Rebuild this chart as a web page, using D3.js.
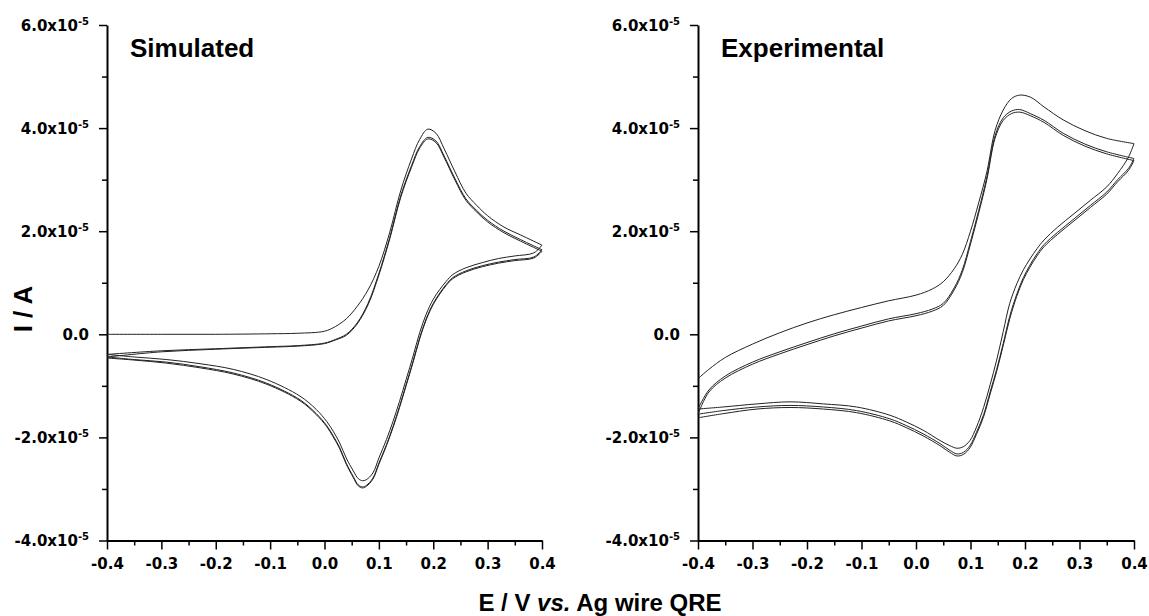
<!DOCTYPE html>
<html>
<head>
<meta charset="UTF-8" />
<script src="https://d3js.org/d3.v7.min.js"></script>
<style>
  body { margin: 0; background: #fff; }
  svg { display: block; }
</style>
</head>
<body>
<div id="chart"></div>
<script>
// currents are in units of 1e-5 A, potentials in V vs. Ag wire QRE

// Simulated: forward (anodic) sweeps
const simFwdE = [-0.4, -0.3, -0.2, -0.1, -0.05, 0, 0.02, 0.04, 0.06, 0.08, 0.1, 0.12, 0.14, 0.16, 0.175, 0.19, 0.205, 0.22, 0.24, 0.26, 0.28, 0.3, 0.33, 0.36, 0.4]
const simFwd1 = [0, 0, 0, 0.01, 0.02, 0.06, 0.15, 0.3, 0.54, 0.86, 1.32, 1.98, 2.78, 3.4, 3.78, 3.98, 3.9, 3.6, 3.15, 2.74, 2.5, 2.3, 2.08, 1.93, 1.73]
const simFwd2 = [-0.39, -0.32, -0.28, -0.24, -0.22, -0.17, -0.1, 0.0, 0.22, 0.6, 1.18, 1.88, 2.68, 3.27, 3.64, 3.82, 3.75, 3.46, 3.02, 2.63, 2.4, 2.21, 2.0, 1.84, 1.64]
const simFwd3 = [-0.44, -0.34, -0.29, -0.25, -0.23, -0.18, -0.11, -0.02, 0.2, 0.57, 1.15, 1.85, 2.65, 3.24, 3.61, 3.79, 3.72, 3.43, 2.99, 2.6, 2.37, 2.18, 1.97, 1.81, 1.61]

// Simulated: reverse (cathodic) sweeps
const simRevE = [0.4, 0.385, 0.35, 0.32, 0.29, 0.26, 0.236, 0.224, 0.212, 0.2, 0.187, 0.175, 0.163, 0.15, 0.138, 0.126, 0.114, 0.1, 0.089, 0.077, 0.07, 0.062, 0.053, 0.04, 0.028, 0.016, 0.004, -0.015, -0.045, -0.106, -0.168, -0.229, -0.29, -0.35, -0.4]
const simRev1 = [1.73, 1.58, 1.52, 1.47, 1.39, 1.29, 1.16, 1.03, 0.87, 0.68, 0.39, 0.03, -0.42, -0.88, -1.3, -1.69, -2.04, -2.4, -2.69, -2.82, -2.84, -2.8, -2.65, -2.4, -2.11, -1.88, -1.69, -1.46, -1.2, -0.88, -0.68, -0.57, -0.49, -0.44, -0.39]
const simRev2 = [1.64, 1.5, 1.45, 1.4, 1.33, 1.23, 1.1, 0.97, 0.8, 0.6, 0.3, -0.07, -0.52, -0.98, -1.4, -1.79, -2.14, -2.5, -2.79, -2.93, -2.96, -2.92, -2.76, -2.5, -2.2, -1.97, -1.77, -1.54, -1.27, -0.95, -0.75, -0.63, -0.54, -0.49, -0.44]
const simRev3 = [1.61, 1.48, 1.43, 1.38, 1.31, 1.21, 1.08, 0.95, 0.78, 0.58, 0.28, -0.09, -0.54, -1.0, -1.42, -1.81, -2.16, -2.52, -2.81, -2.95, -2.98, -2.94, -2.78, -2.52, -2.22, -1.99, -1.79, -1.56, -1.29, -0.97, -0.77, -0.65, -0.56, -0.5, -0.46]

// Experimental: forward sweeps
const expFwdE = [-0.4, -0.38, -0.35, -0.3, -0.25, -0.2, -0.15, -0.1, -0.05, 0, 0.03, 0.05, 0.07, 0.085, 0.1, 0.115, 0.13, 0.145, 0.16, 0.175, 0.19, 0.21, 0.235, 0.27, 0.31, 0.35, 0.4]
const expFwd1 = [-0.86, -0.68, -0.45, -0.19, 0.03, 0.22, 0.38, 0.52, 0.65, 0.76, 0.88, 1.02, 1.27, 1.55, 2.0, 2.55, 3.15, 3.95, 4.35, 4.57, 4.64, 4.6, 4.41, 4.16, 3.95, 3.8, 3.7]
const expFwd2 = [-1.45, -1.08, -0.81, -0.54, -0.34, -0.16, 0.01, 0.16, 0.3, 0.4, 0.49, 0.6, 0.9, 1.25, 1.8, 2.4, 3.05, 3.85, 4.2, 4.33, 4.36, 4.28, 4.15, 3.9, 3.69, 3.54, 3.41]
const expFwd3 = [-1.55, -1.12, -0.85, -0.58, -0.38, -0.2, -0.03, 0.12, 0.26, 0.36, 0.45, 0.56, 0.86, 1.2, 1.75, 2.35, 3.0, 3.8, 4.15, 4.28, 4.31, 4.24, 4.11, 3.86, 3.65, 3.5, 3.37]

// Experimental: reverse sweeps
const expRevE = [0.4, 0.39, 0.37, 0.35, 0.32, 0.29, 0.26, 0.235, 0.222, 0.209, 0.197, 0.185, 0.172, 0.16, 0.148, 0.136, 0.124, 0.111, 0.099, 0.087, 0.075, 0.062, 0.044, 0.013, -0.018, -0.048, -0.109, -0.17, -0.231, -0.292, -0.354, -0.4]
const expRev1 = [3.7, 3.44, 3.12, 2.86, 2.6, 2.34, 2.08, 1.83, 1.66, 1.46, 1.25, 0.98, 0.6, 0.05, -0.5, -0.98, -1.42, -1.8, -2.06, -2.18, -2.21, -2.16, -2.06, -1.86, -1.7, -1.57, -1.41, -1.35, -1.31, -1.35, -1.41, -1.45]
const expRev2 = [3.41, 3.22, 3.0, 2.76, 2.5, 2.24, 1.98, 1.74, 1.56, 1.34, 1.1, 0.78, 0.35, -0.18, -0.68, -1.12, -1.56, -1.9, -2.16, -2.29, -2.32, -2.25, -2.12, -1.93, -1.77, -1.64, -1.48, -1.41, -1.38, -1.41, -1.48, -1.55]
const expRev3 = [3.37, 3.18, 2.96, 2.72, 2.46, 2.2, 1.94, 1.7, 1.52, 1.3, 1.06, 0.74, 0.3, -0.22, -0.72, -1.16, -1.6, -1.94, -2.2, -2.33, -2.36, -2.29, -2.16, -1.97, -1.81, -1.68, -1.52, -1.45, -1.42, -1.45, -1.54, -1.62]

// axis ticks
const xMajor = [-0.4, -0.3, -0.2, -0.1, 0.0, 0.1, 0.2, 0.3, 0.4]
const xMinor = [-0.35, -0.25, -0.15, -0.05, 0.05, 0.15, 0.25, 0.35]
const yMajor = [-4e-5, -2e-5, 0, 2e-5, 4e-5, 6e-5]
const yMinor = [-3e-5, -1e-5, 1e-5, 3e-5, 5e-5]

const W = 1149, H = 616
const svg = d3.select('#chart').append('svg')
    .attr('width', W).attr('height', H)

const tickFont = 'DejaVu Sans, sans-serif'
const titleFont = 'Liberation Sans, Arial, sans-serif'
const fmt = v => d3.format('.1f')(v).replace('\u2212', '-')

function cycle(fE, fI, rE, rI) {
    const pts = []
    fE.forEach((e, i) => pts.push([e, fI[i] * 1e-5]))
    rE.forEach((e, i) => pts.push([e, rI[i] * 1e-5]))
    return pts
}

function drawPanel(x0, x1, title, cycles) {
    const x = d3.scaleLinear().domain([-0.4, 0.4]).range([x0, x1])
    const y = d3.scaleLinear().domain([-4e-5, 6e-5]).range([540.5, 25])
    const g = svg.append('g')

    // minor ticks
    g.append('g').attr('transform', `translate(0,${y(-4e-5)})`)
        .call(d3.axisBottom(x).tickValues(xMinor).tickSize(5).tickFormat(''))
        .call(a => a.select('.domain').remove())
    g.append('g').attr('transform', `translate(${x0},0)`)
        .call(d3.axisLeft(y).tickValues(yMinor).tickSize(5).tickFormat(''))
        .call(a => a.select('.domain').remove())

    // x axis
    const xa = g.append('g').attr('transform', `translate(0,${y(-4e-5)})`)
        .call(d3.axisBottom(x).tickValues(xMajor).tickSize(9).tickSizeOuter(0)
            .tickPadding(6).tickFormat(fmt))
    xa.selectAll('text')
        .style('font-family', tickFont).style('font-weight', 'bold')
        .style('font-size', '15px').attr('fill', '#000')
        .attr('dy', '0.9em')

    // y axis
    const ya = g.append('g').attr('transform', `translate(${x0},0)`)
        .call(d3.axisLeft(y).tickValues(yMajor).tickSize(8).tickSizeOuter(0)
            .tickPadding(10).tickFormat(''))
    ya.selectAll('.tick text').each(function (d) {
        const t = d3.select(this)
            .style('font-family', tickFont).style('font-weight', 'bold')
            .style('font-size', '15px').attr('fill', '#000')
            .attr('dy', '0.36em')
        if (Math.abs(d) < 1e-12) {
            t.text('0.0')
            return
        }
        t.append('tspan').text(fmt(d * 1e5) + 'x10')
        t.append('tspan').attr('dy', '-0.6em').style('font-size', '10px').text('-5')
    })

    g.selectAll('.domain').attr('stroke-width', 2).attr('stroke', '#000')
    g.selectAll('.tick line').attr('stroke-width', 1.5).attr('stroke', '#000')

    const line = d3.line()
        .x(d => x(d[0]))
        .y(d => y(d[1]))
        .curve(d3.curveCatmullRom.alpha(0.5))

    g.selectAll('path.cv').data(cycles).join('path')
        .attr('class', 'cv')
        .attr('d', line)
        .attr('fill', 'none')
        .attr('stroke', '#222')
        .attr('stroke-width', 1)

    g.append('text')
        .attr('x', x0 + 23).attr('y', 57)
        .style('font-family', titleFont).style('font-weight', 'bold')
        .style('font-size', '26px')
        .text(title)
}

drawPanel(107, 542, 'Simulated', [
    cycle(simFwdE, simFwd1, simRevE, simRev1),
    cycle(simFwdE, simFwd2, simRevE, simRev2),
    cycle(simFwdE, simFwd3, simRevE, simRev3)
])

drawPanel(698, 1134, 'Experimental', [
    cycle(expFwdE, expFwd1, expRevE, expRev1),
    cycle(expFwdE, expFwd2, expRevE, expRev2),
    cycle(expFwdE, expFwd3, expRevE, expRev3)
])

// axis titles
svg.append('text')
    .attr('transform', 'translate(32,309) rotate(-90)')
    .attr('text-anchor', 'middle')
    .style('font-family', titleFont).style('font-weight', 'bold')
    .style('font-size', '26px')
    .text('I / A')

const xt = svg.append('text')
    .attr('x', 600).attr('y', 611)
    .attr('text-anchor', 'middle')
    .style('font-family', titleFont).style('font-weight', 'bold')
    .style('font-size', '24px')
xt.append('tspan').text('E / V ')
xt.append('tspan').style('font-style', 'italic').text('vs.')
xt.append('tspan').text(' Ag wire QRE')
</script>
</body>
</html>
